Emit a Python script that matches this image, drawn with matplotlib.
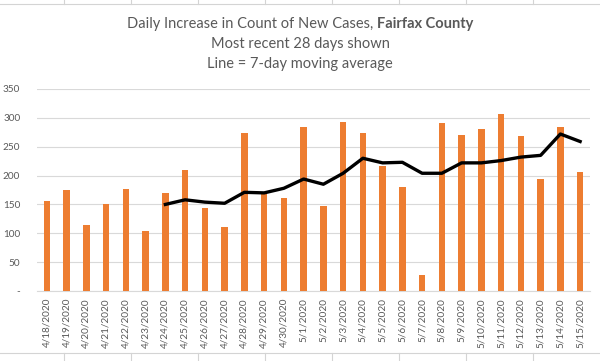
import matplotlib
matplotlib.use("Agg")
import matplotlib.pyplot as plt
from matplotlib.lines import Line2D

dates = ["4/18/2020", "4/19/2020", "4/20/2020", "4/21/2020", "4/22/2020", "4/23/2020",
         "4/24/2020", "4/25/2020", "4/26/2020", "4/27/2020", "4/28/2020", "4/29/2020",
         "4/30/2020", "5/1/2020", "5/2/2020", "5/3/2020", "5/4/2020", "5/5/2020",
         "5/6/2020", "5/7/2020", "5/8/2020", "5/9/2020", "5/10/2020", "5/11/2020",
         "5/12/2020", "5/13/2020", "5/14/2020", "5/15/2020"]
new_cases = [156, 175, 115, 151, 177, 104, 170, 210, 143, 111, 274, 169, 162, 284,
             148, 293, 274, 217, 180, 28, 291, 271, 281, 307, 269, 194, 284, 206]
moving_avg = [None, None, None, None, None, None,
              150, 158, 154, 152, 171, 170, 178, 194, 185, 204, 230, 222, 223,
              204, 204, 222, 222, 226, 232, 235, 272, 259]
yticks = [0, 50, 100, 150, 200, 250, 300, 350]
ytick_labels = ["-", "50", "100", "150", "200", "250", "300", "350"]

W, H = 600, 361
fig = plt.figure(figsize=(W / 100, H / 100), dpi=100)
fig.patch.set_facecolor("white")
plt.rcParams['font.family'] = ['Lato', 'DejaVu Sans']

# Spreadsheet cell borders visible in the screenshot
grid_c = "#d4d4d4"
fig.add_artist(Line2D([0, 1], [1 - 4 / H, 1 - 4 / H], transform=fig.transFigure, color=grid_c, lw=0.8))
fig.add_artist(Line2D([0, 1], [1 - 353 / H, 1 - 353 / H], transform=fig.transFigure, color=grid_c, lw=0.8))
for xp in [64, 131, 198, 265, 332, 399, 466, 533]:
    fig.add_artist(Line2D([xp / W, xp / W], [1, 1 - 4 / H], transform=fig.transFigure, color=grid_c, lw=0.8))
    fig.add_artist(Line2D([xp / W, xp / W], [1 - 353 / H, 0], transform=fig.transFigure, color=grid_c, lw=0.8))

left, right = 37, 590
top, bottom = 89, 291
ax = fig.add_axes([left / W, 1 - bottom / H, (right - left) / W, (bottom - top) / H])
x = list(range(len(dates)))
ax.bar(x, new_cases, width=0.32, color="#ED7D31", zorder=2)
xs = [i for i, v in zip(x, moving_avg) if v is not None]
ys = [v for v in moving_avg if v is not None]
ax.plot(xs, ys, color="black", lw=2.4, zorder=3, solid_joinstyle="round")

ax.set_xlim(-0.5, len(dates) - 0.5)
ax.set_ylim(0, 350)
ax.set_yticks(yticks)
ax.set_yticklabels(ytick_labels)
ax.set_xticks(x)
ax.set_xticklabels(dates, rotation=90)
ax.tick_params(axis="both", length=0, colors="#595959", labelsize=7.2)
ax.tick_params(axis="x", pad=5)
ax.tick_params(axis="y", pad=12)
ax.yaxis.grid(True, color="#d9d9d9", lw=0.8, zorder=0)
ax.set_axisbelow(True)
for s in ["top", "right", "left"]:
    ax.spines[s].set_visible(False)
ax.spines["bottom"].set_color("#d9d9d9")
ax.spines["bottom"].set_linewidth(0.8)
ax.spines["bottom"].set_zorder(1)

tc = "#595959"
fs = 10.5
renderer = fig.canvas.get_renderer()
t1 = fig.text(0, 1 - 24 / H, "Daily Increase in Count of New Cases, ", ha="left", va="center",
              fontsize=fs, color=tc)
t2 = fig.text(0, 1 - 24 / H, "Fairfax County", ha="left", va="center", fontsize=fs,
              color=tc, fontweight="bold")
w1 = t1.get_window_extent(renderer).width
w2 = t2.get_window_extent(renderer).width
x0 = (W - (w1 + w2)) / 2
t1.set_x(x0 / W)
t2.set_x((x0 + w1) / W)
fig.text(0.5, 1 - 44 / H, "Most recent 28 days shown", ha="center", va="center", fontsize=fs, color=tc)
fig.text(0.5, 1 - 64 / H, "Line = 7-day moving average", ha="center", va="center", fontsize=fs, color=tc)

fig.savefig("out.png", dpi=100, facecolor="white")
